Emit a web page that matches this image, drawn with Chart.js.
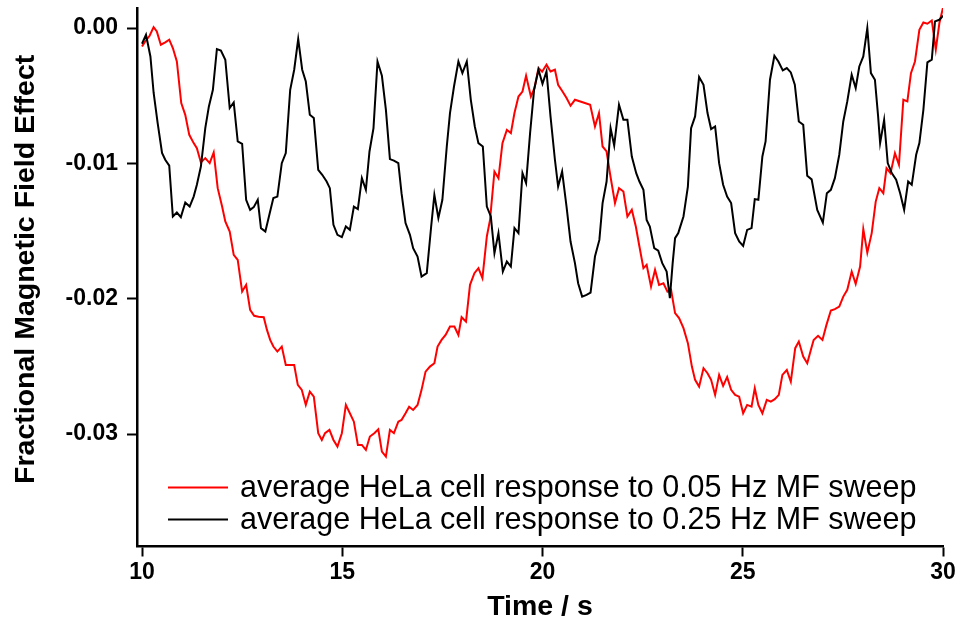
<!DOCTYPE html>
<html lang="en">
<head>
  <meta charset="UTF-8">
  <title>HeLa cell response to MF sweep</title>
  <script src="https://cdn.jsdelivr.net/npm/chart.js"></script>
  <style>
    html, body { margin: 0; padding: 0; background: #fff; }
    #wrap { width: 958px; height: 624px; }
  </style>
</head>
<body>
  <div id="wrap"><canvas id="chartCanvas" width="958" height="624"></canvas></div>

  <script>
    const xTicks = [10, 15, 20, 25, 30];
    const yTicks = [0, -0.01, -0.02, -0.03];
    const seriesLabels = [
      "average HeLa cell response to 0.05 Hz MF sweep",
      "average HeLa cell response to 0.25 Hz MF sweep"
    ];

    // 0.05 Hz sweep (red)
    const redTime = [10.00,10.08,10.19,10.29,10.37,10.47,10.58,10.68,10.77,10.87,
      10.98,11.08,11.18,11.29,11.37,11.47,11.58,11.69,11.79,11.89,
      12.00,12.08,12.19,12.29,12.39,12.50,12.60,12.70,12.80,12.91,
      13.04,13.12,13.20,13.28,13.38,13.49,13.59,13.80,13.89,13.99,
      14.09,14.19,14.29,14.40,14.49,14.57,14.68,14.78,14.88,14.99,
      15.09,15.19,15.29,15.39,15.49,15.59,15.69,15.80,15.90,15.99,
      16.09,16.19,16.29,16.40,16.48,16.58,16.67,16.77,16.88,16.98,
      17.08,17.19,17.30,17.38,17.48,17.58,17.69,17.80,17.90,17.98,
      18.09,18.19,18.30,18.40,18.50,18.61,18.69,18.80,18.90,19.00,
      19.11,19.21,19.30,19.40,19.50,19.59,19.71,19.80,19.90,19.99,
      20.10,20.20,20.31,20.39,20.50,20.60,20.70,20.81,21.02,21.19,
      21.31,21.41,21.50,21.60,21.69,21.81,21.91,22.02,22.12,22.23,
      22.33,22.42,22.52,22.60,22.71,22.81,22.91,23.02,23.12,23.21,
      23.31,23.41,23.52,23.63,23.73,23.81,23.91,24.02,24.12,24.21,
      24.31,24.41,24.51,24.61,24.71,24.81,24.91,25.01,25.11,25.22,
      25.30,25.39,25.49,25.60,25.70,25.80,25.90,25.99,26.10,26.20,
      26.31,26.40,26.51,26.61,26.70,26.77,26.88,26.99,27.09,27.20,
      27.30,27.41,27.51,27.61,27.72,27.82,27.93,28.01,28.11,28.22,
      28.32,28.41,28.51,28.59,28.69,28.80,28.90,29.01,29.11,29.20,
      29.30,29.41,29.51,29.61,29.72,29.82,29.91,30.00];
    const redValue = [-0.00136,-0.00099,-0.00057,0.00007,-0.00025,-0.00123,-0.00106,-0.00086,-0.00148,-0.00247,
      -0.00554,-0.00641,-0.00789,-0.00850,-0.00887,-0.00993,-0.00961,-0.00998,-0.00919,-0.01183,
      -0.01319,-0.01429,-0.01503,-0.01676,-0.01713,-0.01947,-0.01897,-0.02082,-0.02126,-0.02132,
      -0.02136,-0.02230,-0.02304,-0.02353,-0.02390,-0.02353,-0.02489,-0.02489,-0.02636,-0.02673,
      -0.02784,-0.02686,-0.02723,-0.02993,-0.03043,-0.02993,-0.02969,-0.03043,-0.03092,-0.02993,
      -0.02784,-0.02846,-0.02908,-0.03080,-0.03080,-0.03117,-0.03018,-0.02993,-0.02964,-0.03129,
      -0.03166,-0.02969,-0.02993,-0.02908,-0.02895,-0.02846,-0.02797,-0.02821,-0.02784,-0.02673,
      -0.02538,-0.02501,-0.02476,-0.02353,-0.02304,-0.02267,-0.02205,-0.02205,-0.02267,-0.02136,
      -0.02169,-0.01897,-0.01811,-0.01774,-0.01848,-0.01540,-0.01417,-0.01060,-0.01109,-0.00850,
      -0.00752,-0.00776,-0.00628,-0.00506,-0.00469,-0.00353,-0.00506,-0.00443,-0.00296,-0.00323,
      -0.00271,-0.00321,-0.00308,-0.00419,-0.00469,-0.00517,-0.00574,-0.00530,-0.00550,-0.00567,
      -0.00727,-0.00628,-0.00875,-0.00912,-0.01084,-0.01293,-0.01183,-0.01208,-0.01392,-0.01343,
      -0.01466,-0.01614,-0.01774,-0.01749,-0.01910,-0.01786,-0.01897,-0.01885,-0.01947,-0.01934,
      -0.02106,-0.02143,-0.02217,-0.02328,-0.02501,-0.02599,-0.02649,-0.02513,-0.02550,-0.02599,
      -0.02710,-0.02562,-0.02644,-0.02579,-0.02673,-0.02710,-0.02723,-0.02846,-0.02784,-0.02797,
      -0.02661,-0.02784,-0.02846,-0.02747,-0.02760,-0.02742,-0.02710,-0.02562,-0.02526,-0.02612,
      -0.02365,-0.02316,-0.02427,-0.02476,-0.02378,-0.02304,-0.02274,-0.02304,-0.02193,-0.02087,
      -0.02077,-0.02058,-0.01984,-0.01934,-0.01799,-0.01890,-0.01762,-0.01486,-0.01659,-0.01515,
      -0.01282,-0.01183,-0.01220,-0.01035,-0.01072,-0.00924,-0.01010,-0.00530,-0.00542,-0.00333,
      -0.00247,-0.00013,0.00041,0.00032,0.00056,-0.00160,0.00037,0.00150];

    // 0.25 Hz sweep (black)
    const blackTime = [10.00,10.10,10.21,10.29,10.39,10.50,10.58,10.68,10.77,10.87,
      10.97,11.08,11.19,11.29,11.37,11.47,11.58,11.67,11.77,11.87,
      11.97,12.08,12.19,12.29,12.39,12.50,12.60,12.70,12.79,12.89,
      12.97,13.08,13.19,13.28,13.38,13.49,13.59,13.70,13.80,13.90,
      14.00,14.09,14.19,14.29,14.40,14.50,14.61,14.69,14.78,14.88,
      14.99,15.09,15.19,15.29,15.39,15.49,15.59,15.68,15.78,15.88,
      15.99,16.09,16.19,16.29,16.40,16.48,16.58,16.69,16.77,16.88,
      16.98,17.11,17.22,17.30,17.40,17.50,17.61,17.69,17.79,17.90,
      18.00,18.11,18.21,18.31,18.40,18.51,18.61,18.71,18.80,18.90,
      19.01,19.11,19.21,19.30,19.40,19.50,19.59,19.69,19.79,19.90,
      20.00,20.10,20.20,20.31,20.39,20.49,20.60,20.70,20.81,20.89,
      20.99,21.10,21.20,21.31,21.42,21.50,21.60,21.70,21.79,21.91,
      22.02,22.12,22.23,22.34,22.42,22.52,22.60,22.68,22.79,22.89,
      22.99,23.10,23.18,23.25,23.31,23.39,23.43,23.52,23.63,23.71,
      23.81,23.91,24.02,24.12,24.21,24.31,24.41,24.51,24.61,24.71,
      24.81,24.91,25.01,25.11,25.22,25.30,25.39,25.49,25.57,25.68,
      25.79,25.89,26.00,26.10,26.20,26.30,26.40,26.51,26.61,26.72,
      26.86,27.00,27.10,27.20,27.30,27.41,27.51,27.61,27.72,27.82,
      27.91,28.01,28.11,28.20,28.30,28.38,28.43,28.53,28.62,28.72,
      28.83,28.93,29.03,29.13,29.22,29.33,29.41,29.51,29.61,29.72,
      29.80,29.91,30.00];
    const blackValue = [-0.00116,-0.00050,-0.00210,-0.00478,-0.00700,-0.00922,-0.00973,-0.01016,-0.01392,-0.01363,
      -0.01397,-0.01289,-0.01319,-0.01245,-0.01158,-0.01023,-0.00739,-0.00579,-0.00456,-0.00155,
      -0.00166,-0.00234,-0.00591,-0.00550,-0.00838,-0.00855,-0.01269,-0.01343,-0.01323,-0.01269,
      -0.01478,-0.01503,-0.01367,-0.01256,-0.01245,-0.00998,-0.00924,-0.00456,-0.00308,-0.00081,
      -0.00308,-0.00395,-0.00641,-0.00665,-0.01047,-0.01084,-0.01134,-0.01183,-0.01454,-0.01528,
      -0.01545,-0.01466,-0.01491,-0.01319,-0.01338,-0.01109,-0.01195,-0.00912,-0.00739,-0.00247,
      -0.00353,-0.00604,-0.00968,-0.00979,-0.00998,-0.01220,-0.01441,-0.01528,-0.01626,-0.01688,
      -0.01836,-0.01811,-0.01466,-0.01232,-0.01404,-0.01269,-0.00875,-0.00628,-0.00432,-0.00247,
      -0.00333,-0.00247,-0.00530,-0.00727,-0.00850,-0.00875,-0.01319,-0.01392,-0.01663,-0.01515,
      -0.01799,-0.01725,-0.01762,-0.01478,-0.01515,-0.01072,-0.01146,-0.00776,-0.00456,-0.00308,
      -0.00412,-0.00321,-0.00653,-0.00973,-0.01171,-0.01060,-0.01319,-0.01577,-0.01737,-0.01885,
      -0.01984,-0.01971,-0.01954,-0.01688,-0.01565,-0.01293,-0.01134,-0.00739,-0.00868,-0.00567,
      -0.00678,-0.00678,-0.00949,-0.01072,-0.01134,-0.01195,-0.01417,-0.01466,-0.01626,-0.01644,
      -0.01737,-0.01799,-0.01996,-0.01737,-0.01552,-0.01515,-0.01476,-0.01392,-0.01171,-0.00739,
      -0.00653,-0.00362,-0.00419,-0.00628,-0.00746,-0.00727,-0.00998,-0.01158,-0.01245,-0.01293,
      -0.01515,-0.01577,-0.01609,-0.01491,-0.01478,-0.01264,-0.01269,-0.00949,-0.00838,-0.00382,
      -0.00205,-0.00247,-0.00313,-0.00296,-0.00328,-0.00419,-0.00690,-0.00715,-0.01092,-0.01118,
      -0.01343,-0.01437,-0.01220,-0.01195,-0.01109,-0.00936,-0.00690,-0.00542,-0.00345,-0.00443,
      -0.00284,-0.00210,0.00000,-0.00333,-0.00382,-0.00653,-0.00850,-0.00678,-0.00998,-0.01072,
      -0.01121,-0.01220,-0.01343,-0.01134,-0.01158,-0.00936,-0.00850,-0.00604,-0.00254,-0.00234,
      0.00049,0.00061,0.00091];

    const toPoints = (ts, vs) => ts.map((t, i) => ({ x: t, y: vs[i] }));

    // legend drawn inside the plot, lower left
    const innerLegend = {
      id: 'innerLegend',
      afterDatasetsDraw(chart) {
        const { ctx, chartArea } = chart;
        ctx.save();
        ctx.font = '30.5px "Liberation Sans", Arial, sans-serif';
        ctx.textBaseline = 'middle';
        ctx.textAlign = 'left';
        chart.data.datasets.forEach((ds, i) => {
          const x = chartArea.left + 31;
          const y = chartArea.bottom - 59 + i * 32;
          ctx.strokeStyle = ds.borderColor;
          ctx.lineWidth = ds.borderWidth;
          ctx.beginPath();
          ctx.moveTo(x, y);
          ctx.lineTo(x + 60, y);
          ctx.stroke();
          ctx.fillStyle = '#000';
          ctx.fillText(ds.label, x + 72, y + 1);
        });
        ctx.restore();
      }
    };

    const tickFont = { family: '"Liberation Sans", Arial, sans-serif', size: 23, weight: 'bold' };
    const titleFont = { family: '"Liberation Sans", Arial, sans-serif', size: 28.5, weight: 'bold' };

    new Chart(document.getElementById('chartCanvas'), {
      type: 'line',
      data: {
        datasets: [
          {
            label: seriesLabels[0],
            data: toPoints(redTime, redValue),
            borderColor: '#ff0000',
            borderWidth: 2,
            pointRadius: 0,
            tension: 0,
            order: 2
          },
          {
            label: seriesLabels[1],
            data: toPoints(blackTime, blackValue),
            borderColor: '#000000',
            borderWidth: 2,
            pointRadius: 0,
            tension: 0,
            order: 1
          }
        ]
      },
      options: {
        responsive: false,
        devicePixelRatio: 1,
        animation: false,
        layout: { padding: { left: 0, right: 15, top: 8, bottom: 0 } },
        plugins: {
          legend: { display: false },
          tooltip: { enabled: false }
        },
        scales: {
          x: {
            type: 'linear',
            min: 9.875,
            max: 30,
            afterBuildTicks: s => { s.ticks = xTicks.map(v => ({ value: v })); },
            afterFit: s => { s.height = 77.5; s.paddingLeft = 0; s.paddingRight = 0; },
            ticks: {
              color: '#000',
              font: tickFont,
              padding: 2,
              maxRotation: 0,
              callback: v => String(v)
            },
            grid: { drawOnChartArea: false, drawTicks: true, tickLength: 10, tickWidth: 2, tickColor: '#000' },
            border: { display: true, color: '#000', width: 2.5 },
            title: { display: true, text: 'Time / s', color: '#000', font: titleFont, padding: { top: 0, bottom: 0 } }
          },
          y: {
            min: -0.0383,
            max: 0.00148,
            afterBuildTicks: s => { s.ticks = yTicks.map(v => ({ value: v })); },
            afterFit: s => { s.width = 137; s.paddingTop = 0; s.paddingBottom = 0; },
            ticks: {
              color: '#000',
              font: tickFont,
              padding: 9,
              callback: v => v.toFixed(2)
            },
            grid: { drawOnChartArea: false, drawTicks: true, tickLength: 10, tickWidth: 2, tickColor: '#000' },
            border: { display: true, color: '#000', width: 2.5 },
            title: { display: true, text: '  Fractional Magnetic Field Effect', color: '#000', font: titleFont, padding: { top: 9, bottom: 9 } }
          }
        }
      },
      plugins: [innerLegend]
    });
  </script>
</body>
</html>
